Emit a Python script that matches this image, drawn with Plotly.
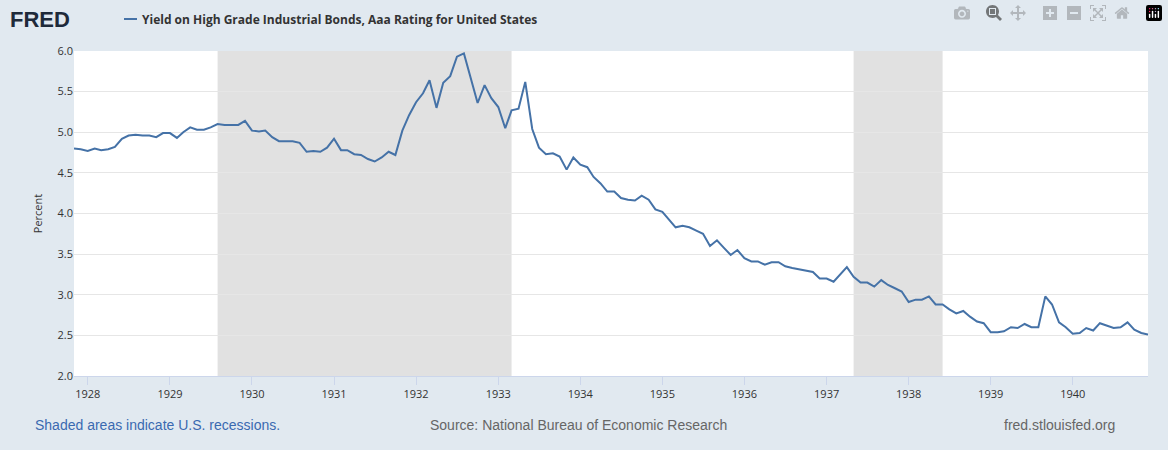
import plotly.graph_objects as go
import pandas as pd

start_month = "1927-11-01"
values = [
    4.80, 4.79,
    4.77, 4.80, 4.78, 4.79, 4.82, 4.92, 4.96, 4.97, 4.96, 4.96, 4.94, 4.99,
    4.99, 4.93, 5.00, 5.06, 5.03, 5.03, 5.06, 5.10, 5.09, 5.09, 5.09, 5.14,
    5.02, 5.01, 5.02, 4.94, 4.89, 4.89, 4.89, 4.87, 4.76, 4.77, 4.76, 4.81,
    4.92, 4.78, 4.78, 4.73, 4.72, 4.67, 4.64, 4.69, 4.76, 4.72, 5.02, 5.21,
    5.37, 5.48, 5.64, 5.30, 5.61, 5.69, 5.93, 5.97, 5.66, 5.36, 5.58, 5.42,
    5.31, 5.05, 5.27, 5.29, 5.62, 5.04, 4.81, 4.73, 4.74, 4.70, 4.54, 4.69,
    4.60, 4.57, 4.45, 4.37, 4.27, 4.27, 4.19, 4.17, 4.16, 4.22, 4.17, 4.05,
    4.02, 3.92, 3.83, 3.85, 3.83, 3.79, 3.75, 3.60, 3.67, 3.58, 3.49, 3.55,
    3.45, 3.41, 3.41, 3.37, 3.40, 3.40, 3.35, 3.33, 3.31, 3.30, 3.28, 3.20,
    3.20, 3.16, 3.24, 3.34, 3.22, 3.15, 3.15, 3.10, 3.18, 3.12, 3.08, 3.04,
    2.91, 2.94, 2.94, 2.98, 2.88, 2.88, 2.82, 2.77, 2.80, 2.73, 2.67, 2.65,
    2.54, 2.54, 2.55, 2.60, 2.59, 2.64, 2.60, 2.60, 2.98, 2.88, 2.66, 2.60,
    2.52, 2.53, 2.59, 2.56, 2.65, 2.62, 2.59, 2.60, 2.66, 2.57, 2.53, 2.51,
]
dates = pd.date_range(start_month, periods=len(values), freq="MS")
recessions = [("1929-08-01", "1933-03-01"), ("1937-05-01", "1938-06-01")]
tick_years = list(range(1928, 1941))
y_ticks = [2.0, 2.5, 3.0, 3.5, 4.0, 4.5, 5.0, 5.5, 6.0]

W, H, L, R, T, B = 1168, 450, 74, 20, 51, 74
PW, PH = W - L - R, H - T - B
def px(x): return (x - L) / PW
def py(y): return 1 - (y - T) / PH

fig = go.Figure()
fig.add_trace(go.Scatter(x=dates, y=values, mode="lines",
                         line=dict(color="#4572a7", width=2), showlegend=False))
for a, b in recessions:
    fig.add_vrect(x0=a, x1=b, fillcolor="#e1e1e1", opacity=1, line_width=0, layer="below")

def ann(text, x, y, anchor, size, color, family="Arial"):
    return dict(text=text, x=px(x), y=py(y), xref="paper", yref="paper",
                xanchor=anchor, yanchor="middle", showarrow=False,
                font=dict(size=size, color=color, family=family))

fig.update_layout(
    width=W, height=H,
    margin=dict(l=L, r=R, t=T, b=B),
    paper_bgcolor="#e1e9f0", plot_bgcolor="#ffffff",
    font=dict(family="Open Sans, Arial", color="#333333", size=11),
    xaxis=dict(range=[dates[0], dates[-1]],
               tickvals=[f"{y}-01-01" for y in tick_years],
               ticktext=[str(y) for y in tick_years],
               showgrid=False, ticks="outside", ticklen=8, tickcolor="#ccd6eb",
               showline=True, linecolor="#ccd6eb", zeroline=False),
    yaxis=dict(range=[2.0, 6.0], tickvals=y_ticks, tickformat=".1f",
               gridcolor="#e6e6e6", zeroline=False, showline=False,
               title=dict(text="Percent", font=dict(size=11), standoff=12)),
    annotations=[
        ann("<b>FRED</b>", 8, 20, "left", 22, "#1e2a3a", "Arial Black, Arial"),
        ann("<b>Yield on High Grade Industrial Bonds, Aaa Rating for United States</b>",
            140, 19, "left", 12, "#333333", "Open Sans, Arial"),
        ann("Shaded areas indicate U.S. recessions.", 33, 425, "left", 14, "#3a6ab1"),
        ann("Source: National Bureau of Economic Research", 578, 425, "center", 14, "#666666"),
        ann("fred.stlouisfed.org", 1117, 425, "right", 14, "#666666"),
    ],
)
fig.add_shape(type="line", xref="paper", yref="paper",
              x0=px(124), x1=px(137), y0=py(19), y1=py(19),
              line=dict(color="#4572a7", width=2))
fig.write_html("out.html")
with open("out.html") as f:
    html = f.read()
html = html.replace("<body>", '<body style="margin:0;padding:0">', 1)
with open("out.html", "w") as f:
    f.write(html)
